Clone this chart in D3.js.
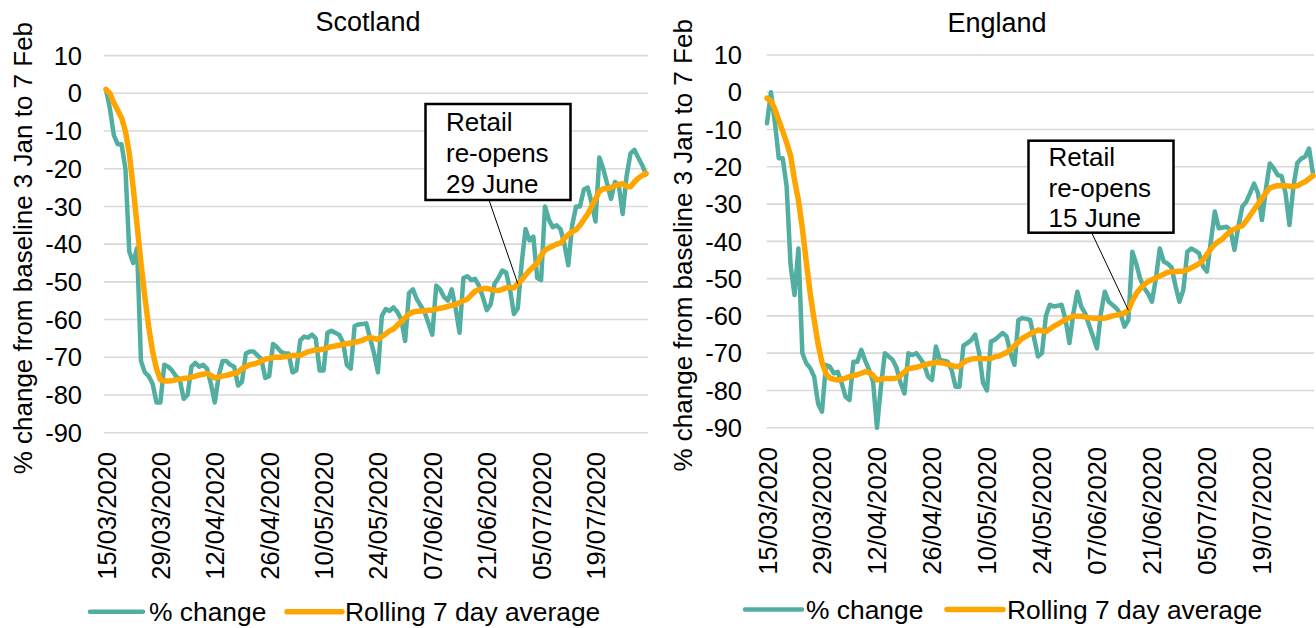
<!DOCTYPE html>
<html><head><meta charset="utf-8">
<script src="https://cdn.jsdelivr.net/npm/d3@7"></script>
<style>
html,body{margin:0;padding:0;background:#fff;}
svg{display:block;font-family:"Liberation Sans",Arial,sans-serif;}
</style></head><body>
<svg id="chart" width="1316" height="628"></svg>
<script>
// ---------- DATA ----------
const startDate = "2020-03-15";
const endDate = "2020-08-01";
const tickLabels = ["15/03/2020","29/03/2020","12/04/2020","26/04/2020","10/05/2020","24/05/2020","07/06/2020","21/06/2020","05/07/2020","19/07/2020"];
const yTicks = [10,0,-10,-20,-30,-40,-50,-60,-70,-80,-90];
const seriesNames = ["% change","Rolling 7 day average"];

const scotlandChange = [
1,-4,-11,-13.5,-13.5,-20,-42,-45,-41,-71,
-74,-75,-77,-82,-82,-72,-72.5,-73.5,-75,-76,
-81,-80,-72.5,-71.5,-72.5,-72,-73,-77,-82,-75,
-71,-71,-72,-72.5,-77.5,-76.5,-69,-68.5,-68.5,-69.5,
-70.5,-75.5,-75,-66.5,-67.3,-68.5,-69,-69,-74,-73.5,
-65.5,-64.5,-64.8,-64,-65,-73.5,-73.5,-63.5,-63,-63.5,
-64,-66,-72,-73,-61.7,-61.3,-61.2,-61,-65,-69,
-74,-59,-57.2,-57.7,-56.8,-58,-60,-65.7,-53,-52,
-54.6,-56.3,-58,-61,-64,-51,-52,-54,-55,-52,
-57,-63.5,-49,-48.5,-49.5,-49.2,-51,-54,-57.5,-56,
-50.5,-49,-47,-47.5,-52,-58.5,-57,-45,-36,-39,
-38,-49,-49.5,-30,-33.5,-35.5,-35,-36,-40,-45.6,
-35,-30,-30,-25.5,-25,-29,-34,-17,-20,-24,
-28,-23.5,-24.5,-32,-22,-16,-15,-17,-19,-21.5];

const scotlandRolling = [
1,0,-2.5,-4.5,-6.5,-10,-16,-25,-35,-45,
-54,-62,-68.5,-73,-76,-76.3,-76.3,-76.2,-76,-75.8,
-75.6,-75.5,-75.3,-75,-74.7,-74.5,-74.3,-74.8,-75.5,-75.2,
-75,-74.8,-74.5,-74.3,-74,-73,-72.5,-72,-71.8,-71.5,
-71,-70.5,-70.3,-70,-70,-70,-69.8,-69.7,-69.5,-69.5,
-69.5,-69,-68.5,-68.3,-68,-68,-67.8,-67.5,-67.2,-67,
-66.8,-66.6,-66.4,-66.2,-66,-65.8,-65.5,-65,-64.8,-65,
-65.3,-64.5,-63.8,-63,-62.5,-61.5,-60.5,-59.5,-58.5,-58,
-57.8,-57.7,-57.7,-57.5,-57.5,-57.2,-57,-56.8,-56.5,-56.2,
-56,-55.5,-55,-54.6,-53.5,-52.5,-52,-51.8,-51.7,-52,
-52.2,-52.3,-52,-51.6,-51.4,-51.6,-50.5,-49.5,-48.2,-47,
-46,-45,-43,-41.6,-41,-40.5,-40,-39.7,-38.5,-37.5,
-36.7,-36.2,-35,-33.5,-32,-30,-28,-26,-25.3,-25.3,
-25,-24.5,-24.2,-24,-24.7,-24.8,-23.5,-22.5,-21.8,-21.2];

const englandChange = [
-8.3,0,-8,-17.7,-17.7,-25.3,-46.3,-54.4,-41.9,-70,
-72.7,-74,-76.3,-83.5,-85.7,-73.2,-73.6,-75.4,-75,-78,
-81.7,-82.6,-72.3,-72.3,-69.1,-72,-74.5,-77.6,-90,-79,
-70,-70.9,-71.8,-74,-78,-80.8,-70,-70.5,-70,-71.4,
-73,-76.3,-77.2,-68.2,-71.8,-72,-72.3,-74.5,-79,-79,
-68,-67.3,-66.5,-65,-70,-78,-80,-66.9,-66.4,-65.5,
-64.6,-65.5,-70,-73.1,-61.1,-60.6,-60.8,-61.1,-66,-70.9,
-70,-60,-57,-57.5,-57.3,-57,-61,-67.3,-59.3,-53.5,
-57.5,-59.3,-62.5,-65.5,-68.7,-59.3,-53.5,-56.2,-57.1,-58,
-59.5,-62.9,-61.1,-42.8,-46,-50,-52.5,-54,-56.2,-50,
-41.9,-45.4,-46,-47,-52,-56.2,-53,-42.8,-41.9,-42.5,
-43.2,-46.8,-48.1,-40,-32,-36.5,-36.3,-36.1,-37,-42.3,
-36,-30.7,-29.4,-27,-24.5,-27.1,-34.3,-26,-19.1,-20.4,
-22.2,-22.5,-27,-35.6,-25.4,-19,-17.8,-17.3,-15.1,-21.8];

const englandRolling = [
-1.6,-2.3,-4.5,-7.5,-10.5,-13.5,-17,-23.5,-29,-36.5,
-45.5,-54,-61,-67.5,-72.5,-75.5,-76.7,-77,-77.2,-77,
-76.7,-76.3,-76,-75.8,-75.4,-75,-75.2,-76,-77.2,-77,
-76.8,-76.8,-76.8,-76.7,-76,-75,-74.2,-74,-73.8,-73.5,
-73.2,-72.9,-72.7,-72.5,-72.5,-72.7,-73,-73.3,-73.6,-73.5,
-72.5,-71.9,-71.6,-71.4,-71.4,-71.5,-71.5,-71.4,-71,-70.8,
-70.3,-69.8,-69,-68,-67,-66,-65.4,-64.8,-64.3,-63.8,
-64,-64.3,-63.5,-62.8,-62.2,-61.6,-61,-60.5,-60.1,-60.1,
-60.1,-60.3,-60.5,-60.6,-60.6,-60.6,-60.6,-60.3,-60,-59.8,
-59.5,-59.2,-58.5,-56,-54,-52.7,-51.6,-50.8,-50.3,-49.8,
-49.3,-48.8,-48.3,-48.2,-48.1,-48,-48,-47.6,-47.1,-46.6,
-46,-45,-43.5,-42,-40.8,-40,-39.3,-38.2,-37.2,-36.8,
-36.2,-35.8,-34.5,-33,-31.5,-30,-28.5,-27,-25.7,-25.3,
-25.1,-25.1,-25.1,-25.2,-25.3,-25.1,-24.5,-24,-23.2,-22.4];

const colors = {change:"#52AEA0", rolling:"#FFA500", grid:"#D9D9D9", text:"#000"};

// ---------- LAYOUT ----------
const parse = d3.timeParse("%Y-%m-%d");
const parseLabel = d3.timeParse("%d/%m/%Y");
const days = d3.timeDay.range(parse(startDate), d3.timeDay.offset(parse(endDate),1));

const panels = [
  {title:"Scotland", change:scotlandChange, rolling:scotlandRolling,
   xr:[106,646], grid:[104,648], yr:[432.7,55.6], tickRight:82, yTitleX:32, titleX:368, titleY:31,
   xLabelTop:452, legendY:611.7, leg:[{x1:90,x2:143,tx:149},{x1:287,x2:342,tx:345}],
   ann:{date:"2020-06-29", lines:["Retail","re-opens","29 June"], box:[425.5,104,145,96], tx:446, base:[130.5,162,193], from:[489,200]}},
  {title:"England", change:englandChange, rolling:englandRolling,
   xr:[767,1313], grid:[766.7,1314], yr:[427.7,55], tickRight:742, yTitleX:692, titleX:997, titleY:32,
   xLabelTop:447, legendY:609.5, leg:[{x1:745,x2:802,tx:806},{x1:947,x2:1003,tx:1007}],
   ann:{date:"2020-06-15", lines:["Retail","re-opens","15 June"], box:[1028.5,140.7,145,92], tx:1048.5, base:[166,196.5,227], from:[1091.7,232.7]}}
];

const svg = d3.select("#chart");
const F = 26.4;

panels.forEach(p => {
  const x = d3.scaleTime().domain([days[0], days[days.length-1]]).range(p.xr);
  const y = d3.scaleLinear().domain([-90,10]).range(p.yr);
  const g = svg.append("g");

  g.selectAll("line.grid").data(yTicks).join("line")
    .attr("x1", p.grid[0]).attr("x2", p.grid[1])
    .attr("y1", d => y(d)).attr("y2", d => y(d))
    .attr("stroke", colors.grid).attr("stroke-width", 1.6);

  g.selectAll("text.yt").data(yTicks).join("text")
    .attr("x", p.tickRight).attr("y", d => y(d)).attr("dy", "0.36em")
    .attr("text-anchor", "end").attr("font-size", 25.5).attr("fill", colors.text)
    .text(d => d);

  g.selectAll("text.xt").data(tickLabels).join("text")
    .attr("transform", d => `translate(${x(parseLabel(d)) + 9.5},${p.xLabelTop}) rotate(-90)`)
    .attr("text-anchor", "end").attr("font-size", 25.5).attr("fill", colors.text)
    .text(d => d);

  g.append("text")
    .attr("transform", `translate(${p.yTitleX},${(p.yr[0]+p.yr[1])/2 + 4}) rotate(-90)`)
    .attr("text-anchor", "middle").attr("font-size", 26).attr("fill", colors.text)
    .text("% change from baseline 3 Jan to 7 Feb");

  g.append("text").attr("x", p.titleX).attr("y", p.titleY)
    .attr("text-anchor", "middle").attr("font-size", 27).attr("fill", colors.text)
    .text(p.title);

  const line = d3.line().x((d,i) => x(days[i])).y(d => y(d));
  g.append("path").datum(p.change).attr("d", line)
    .attr("fill","none").attr("stroke", colors.change).attr("stroke-width", 4.5)
    .attr("stroke-linejoin","round").attr("stroke-linecap","round");
  g.append("path").datum(p.rolling).attr("d", line)
    .attr("fill","none").attr("stroke", colors.rolling).attr("stroke-width", 5.5)
    .attr("stroke-linejoin","round").attr("stroke-linecap","round");

  const a = p.ann;
  const ai = days.findIndex(d => +d === +parse(a.date));
  g.append("line").attr("x1", a.from[0]).attr("y1", a.from[1])
    .attr("x2", x(days[ai])).attr("y2", y(p.rolling[ai]))
    .attr("stroke","#000").attr("stroke-width",1);
  g.append("rect").attr("x", a.box[0]).attr("y", a.box[1]).attr("width", a.box[2]).attr("height", a.box[3])
    .attr("fill","#fff").attr("stroke","#000").attr("stroke-width",2.5);
  a.lines.forEach((t,i) => g.append("text").attr("x", a.tx).attr("y", a.base[i])
    .attr("font-size", 26).attr("fill", colors.text).text(t));

  [colors.change, colors.rolling].forEach((c,i) => {
    const L = p.leg[i];
    g.append("line").attr("x1", L.x1).attr("x2", L.x2).attr("y1", p.legendY).attr("y2", p.legendY)
      .attr("stroke", c).attr("stroke-width", i ? 5.5 : 4.5).attr("stroke-linecap","round");
    g.append("text").attr("x", L.tx).attr("y", p.legendY).attr("dy","0.36em")
      .attr("font-size", F).attr("fill", colors.text).text(seriesNames[i]);
  });
});
</script>
</body></html>
